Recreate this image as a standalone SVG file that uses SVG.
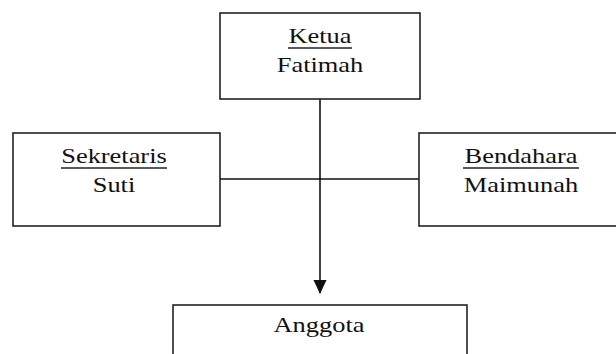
<svg xmlns="http://www.w3.org/2000/svg" width="616" height="354" viewBox="0 0 616 354">
<defs>
<style>
.box{fill:#fff;stroke:#222;stroke-width:1.6}
.t{font-family:"Liberation Serif","Times New Roman",serif;font-size:22px;fill:#111;text-anchor:middle}
.ul{stroke:#222;stroke-width:1.6}
.conn{stroke:#111;stroke-width:1.6;fill:none}
</style>
<marker id="arr" markerWidth="14" markerHeight="16" refX="14" refY="7" orient="auto" markerUnits="userSpaceOnUse" viewBox="0 0 15 14">
<path d="M0,0 L15,7 L0,14 Z" fill="#111"/>
</marker>
</defs>
<rect width="616" height="354" fill="#fff"/>
<g id="connectors">
<line class="conn" x1="220" y1="179" x2="419" y2="179"/>
<line class="conn" x1="320" y1="99" x2="320" y2="293" marker-end="url(#arr)"/>
</g>
<g id="ketua">
<rect class="box" x="220" y="13" width="200" height="86"/>
<text class="t" transform="translate(320,43) scale(1.2,1)">Ketua</text>
<line class="ul" x1="288" y1="48" x2="352" y2="48"/>
<text class="t" transform="translate(320,72) scale(1.2,1)">Fatimah</text>
</g>
<g id="sekretaris">
<rect class="box" x="13" y="133" width="207" height="93"/>
<text class="t" transform="translate(114,163) scale(1.2,1)">Sekretaris</text>
<line class="ul" x1="61" y1="168" x2="167" y2="168"/>
<text class="t" transform="translate(114,192) scale(1.2,1)">Suti</text>
</g>
<g id="bendahara">
<rect class="box" x="419" y="133" width="210" height="93"/>
<text class="t" transform="translate(521,163) scale(1.2,1)">Bendahara</text>
<line class="ul" x1="463" y1="168" x2="579" y2="168"/>
<text class="t" transform="translate(521,192) scale(1.2,1)">Maimunah</text>
</g>
<g id="anggota">
<rect class="box" x="173" y="305" width="294" height="70"/>
<text class="t" transform="translate(319,332) scale(1.2,1)">Anggota</text>
</g>
</svg>
